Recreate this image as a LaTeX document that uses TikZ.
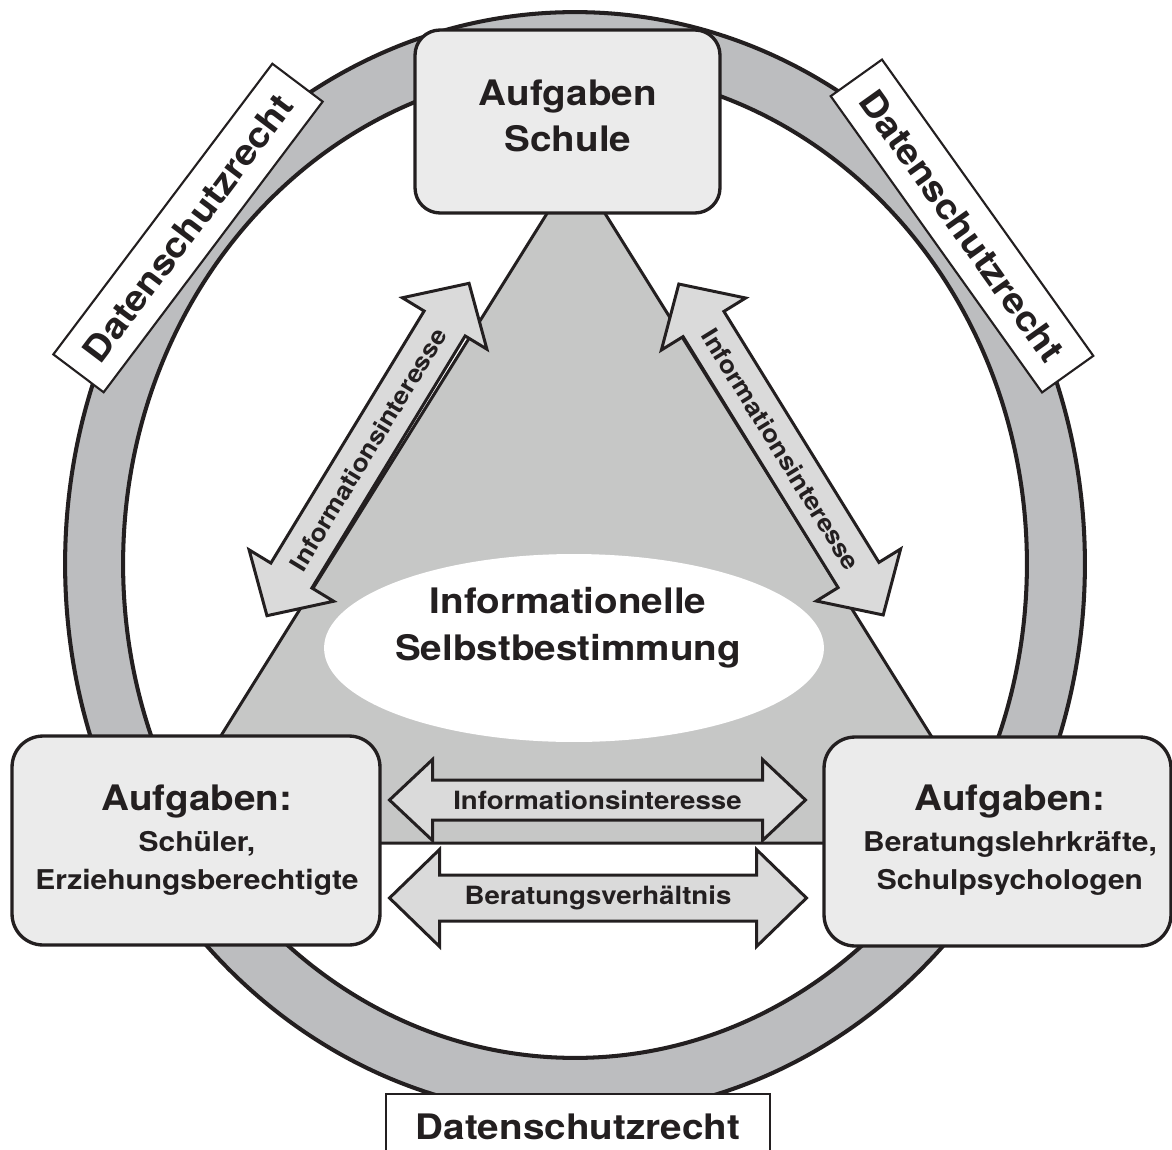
\documentclass[tikz,border=0pt]{standalone}
\usepackage{fontspec}
\setmainfont{TeX Gyre Heros}[FakeStretch=1.1]
\usetikzlibrary{shapes.geometric, positioning}
\definecolor{inkblack}{RGB}{35,31,32}
\definecolor{ringgray}{RGB}{188,189,191}
\definecolor{trigray}{RGB}{198,199,198}
\definecolor{boxgray}{RGB}{235,235,235}
\definecolor{arrowgray}{RGB}{218,218,218}
\newcommand{\boxheadfont}{\fontsize{20}{26.6}\selectfont\bfseries}
\newcommand{\boxsubfont}{\fontsize{15.5}{21.5}\selectfont\bfseries}
\tikzset{
  rimline/.style={draw=inkblack, line width=2.3pt},
  trianglearea/.style={
    draw=inkblack, fill=trigray, line width=1.7pt, line join=miter
  },
  selfellipse/.style={
    ellipse, fill=white, inner sep=0pt,
    minimum width=10cm, minimum height=3.76cm
  },
  taskbox/.style={
    rectangle, rounded corners=0.62cm,
    draw=inkblack, fill=boxgray, line width=1.9pt, inner sep=0pt
  },
  headlabel/.style={
    font=\boxheadfont, text=inkblack, align=center, inner sep=0pt
  },
  sublabel/.style={
    font=\boxsubfont, text=inkblack, align=center, inner sep=0pt
  },
  lawbox/.style={
    rectangle, draw=inkblack, fill=white, line width=1.2pt,
    minimum width=7.28cm, minimum height=1.26cm, inner sep=0pt,
    font=\fontsize{20}{24}\selectfont\bfseries, text=inkblack
  },
  flowarrow/.style={
    draw=inkblack, fill=arrowgray, line width=1.7pt, line join=miter
  },
  arrowlabel/.style={
    font=\fontsize{14.3}{17}\selectfont\bfseries, text=inkblack, inner sep=0pt
  }
}
% #1 name, #2 centre, #3 angle, #4 half length, #5 shaft half width,
% #6 head half width, #7 head length, #8 label
\newcommand{\infoarrow}[8]{%
  \begin{scope}[shift={#2}, rotate=#3]
    \draw[flowarrow] (-#4,0) -- (-#4+#7,#6) -- (-#4+#7,#5) -- (#4-#7,#5)
      -- (#4-#7,#6) -- (#4,0) -- (#4-#7,-#6) -- (#4-#7,-#5)
      -- (-#4+#7,-#5) -- (-#4+#7,-#6) -- cycle;
    \node[arrowlabel, rotate=#3] (#1) at (0,0) {#8};
  \end{scope}}

\begin{document}
\begin{tikzpicture}[x=0.02cm, y=-0.02cm]
\useasboundingbox (0,0) rectangle (1172,1149);

% ═══════════════════════════════════════════════════════════════════
% RING  (Datenschutzrecht)
% ═══════════════════════════════════════════════════════════════════
\coordinate (ringcentre) at (575,564);
\fill[ringgray, even odd rule]
  (ringcentre) ellipse [x radius=10.2cm, y radius=11.04cm]
  (ringcentre) ellipse [x radius=9.04cm, y radius=9.88cm];
\draw[rimline] (ringcentre) ellipse [x radius=10.2cm, y radius=11.04cm];
\draw[rimline] (ringcentre) ellipse [x radius=9.04cm, y radius=9.88cm];

% ═══════════════════════════════════════════════════════════════════
% TRIANGLE + CENTRE
% ═══════════════════════════════════════════════════════════════════
\coordinate (apex)  at (576,167);
\coordinate (baseL) at (154,843);
\coordinate (baseR) at (998,843);
\draw[trianglearea] (apex) -- (baseL) -- (baseR) -- cycle;

\node[selfellipse] (selbst) at (574,648) {};
\node[headlabel] (selbsttext) at (568,628)
  {Informationelle\\Selbstbestimmung};

% ── law labels on the ring ───────────────────────────────────────
\node[lawbox, rotate=53]    (lawleft)  at (188,228) {Datenschutzrecht};
\node[lawbox, rotate=-54.5] (lawright) at (962,226) {Datenschutzrecht};
\node[lawbox, anchor=north, minimum width=7.68cm, minimum height=1.3cm]
  (lawbottom) at (578,1093) {Datenschutzrecht};

% ═══════════════════════════════════════════════════════════════════
% ARROWS
% ═══════════════════════════════════════════════════════════════════
\infoarrow{infoleft}{(368,449.5)}{58.7}{194.5}{24}{49.5}{47}
  {\fontsize{13.8}{16}\selectfont Informationsinteresse}
\infoarrow{inforight}{(781,449.5)}{-58.3}{194.5}{24}{49.5}{47}
  {\fontsize{13.8}{16}\selectfont Informationsinteresse}
\infoarrow{infomid}{(597.5,800)}{0}{208}{20}{40.5}{43}
  {Informationsinteresse}
\infoarrow{beratung}{(598,898)}{0}{208.5}{23}{48.5}{50}
  {Beratungsverhältnis}

% ═══════════════════════════════════════════════════════════════════
% TASK BOXES
% ═══════════════════════════════════════════════════════════════════
\node[taskbox, rounded corners=0.5cm,
      minimum width=6.1cm, minimum height=3.66cm]
  (schule) at (567.5,121.5) {};
\node[headlabel] (schuletext) at (568,116) {Aufgaben\\Schule};

\node[taskbox, minimum width=7.36cm, minimum height=4.18cm]
  (schueler) at (196,840.5) {};
\node[sublabel] (schuelertext) at (197,840)
  {{\boxheadfont Aufgaben:}\\[1.7pt]Schüler,\\Erziehungsberechtigte};

\node[taskbox, minimum width=6.94cm, minimum height=4.18cm]
  (berater) at (997.5,841.5) {};
\node[sublabel] (beratertext) at (1010,840)
  {{\boxheadfont Aufgaben:}\\[1.7pt]Beratungslehrkräfte,\\Schulpsychologen};

\end{tikzpicture}
\end{document}
